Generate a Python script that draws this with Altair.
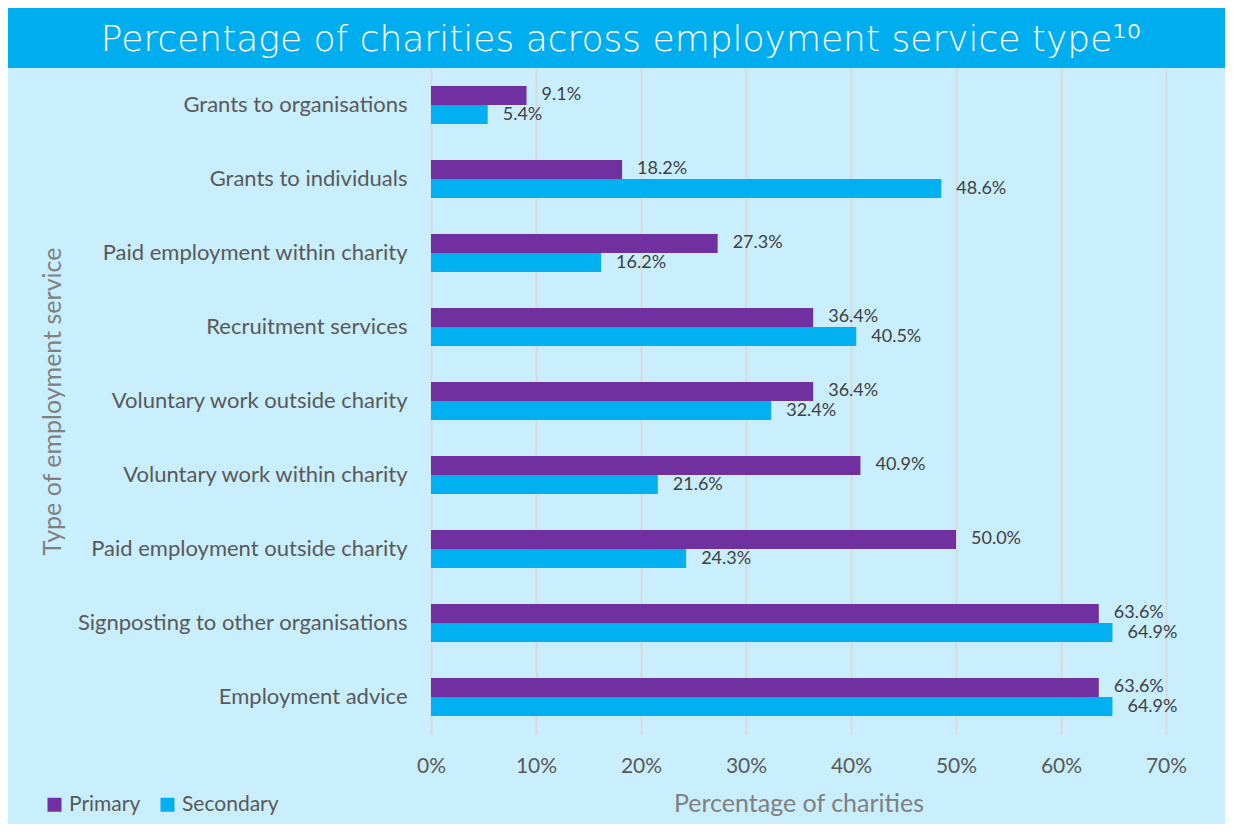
import altair as alt
import pandas as pd

categories = [
    "Grants to organisations",
    "Grants to individuals",
    "Paid employment within charity",
    "Recruitment services",
    "Voluntary work outside charity",
    "Voluntary work within charity",
    "Paid employment outside charity",
    "Signposting to other organisations",
    "Employment advice",
]
primary = [9.1, 18.2, 27.3, 36.4, 36.4, 40.9, 50.0, 63.6, 63.6]
secondary = [5.4, 48.6, 16.2, 40.5, 32.4, 21.6, 24.3, 64.9, 64.9]
series = ["Primary", "Secondary"]
colors = ["#7030A0", "#00B0F0"]
x_ticks = [0, 10, 20, 30, 40, 50, 60, 70]
title_text = "Percentage of charities across employment service type\u00b9\u2070"

rows = []
for c, p, s in zip(categories, primary, secondary):
    rows.append({"category": c, "series": "Primary", "value": p, "label": f"{p:.1f}%"})
    rows.append({"category": c, "series": "Secondary", "value": s, "label": f"{s:.1f}%"})
df = pd.DataFrame(rows)

FONT = "Lato"
PW, PH = 735, 666

x_enc = alt.X(
    "value:Q",
    scale=alt.Scale(domain=[0, 70], nice=False),
    axis=alt.Axis(
        values=x_ticks,
        labelExpr="datum.value + '%'",
        labelFlush=False,
        title="Percentage of charities",
        grid=True, gridColor="#D9D9D9", gridWidth=2,
        domain=False, ticks=False,
        labelFont=FONT, labelFontSize=21, labelColor="#595959", labelPadding=21,
        titleFont=FONT, titleFontSize=25, titleColor="#808080", titleFontWeight="normal",
        titleY=69, titleBaseline="middle",
    ),
)
y_enc = alt.Y(
    "category:N",
    sort=categories,
    scale=alt.Scale(paddingInner=0.486, paddingOuter=0.243),
    axis=alt.Axis(
        title="Type of employment service",
        domain=False, ticks=False, grid=False,
        labelFont=FONT, labelFontSize=22, labelColor="#595959", labelPadding=24,
        labelLimit=500,
        titleFont=FONT, titleFontSize=25, titleColor="#808080", titleFontWeight="normal",
        titleAngle=270, titleX=-379, titleY=333, titleAlign="center", titleBaseline="middle",
    ),
)
yoff = alt.YOffset("series:N", scale=alt.Scale(domain=series, paddingInner=0, paddingOuter=0))

base = alt.Chart(df)
bars = base.mark_bar(size=19).encode(
    x=x_enc,
    y=y_enc,
    yOffset=yoff,
    color=alt.Color(
        "series:N",
        scale=alt.Scale(domain=series, range=colors),
        legend=alt.Legend(
            title=None, orient="none", legendX=-387, legendY=726, direction="horizontal",
            symbolType="square", symbolSize=196, symbolStrokeWidth=0,
            labelFont=FONT, labelFontSize=21, labelColor="#595959",
            columnPadding=16, labelOffset=4,
        ),
    ),
)
labels = base.mark_text(align="left", baseline="middle", dx=15, font=FONT, fontSize=18, color="#404040").encode(
    x="value:Q",
    y=alt.Y("category:N", sort=categories),
    yOffset=yoff,
    text="label:N",
)

one = alt.Data(values=[{}])
band = alt.Chart(one).mark_rect(color="#00AEEF").encode(
    x=alt.value(-423), x2=alt.value(PW + 59), y=alt.value(-60), y2=alt.value(0)
)
title = alt.Chart(one).mark_text(
    align="center", baseline="middle", font="DejaVu Sans", fontWeight=300, fontSize=36, color="white"
).encode(x=alt.value(190), y=alt.value(-28), text=alt.value(title_text))

chart = alt.layer(band, title, bars, labels).properties(
    width=PW, height=PH,
    autosize=alt.AutoSizeParams(type="none"),
    padding={"left": 423, "top": 60, "right": 59, "bottom": 90},
).configure(background="#C9EEFD").configure_view(stroke=None)

chart.save("out.html", embed_options={"renderer": "svg", "actions": False})
